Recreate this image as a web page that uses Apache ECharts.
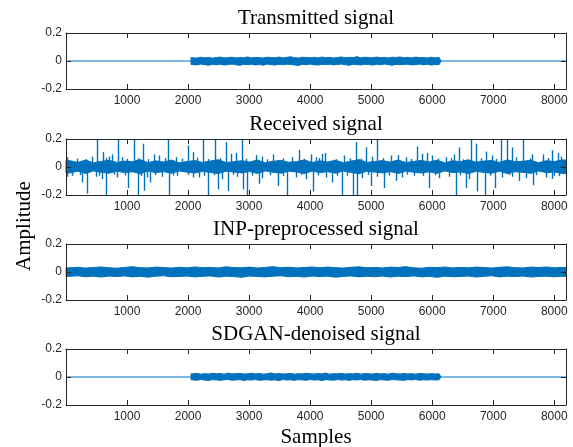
<!DOCTYPE html>
<html><head><meta charset="utf-8">
<script src="https://cdn.jsdelivr.net/npm/echarts@6/dist/echarts.min.js"></script>
<style>html,body{margin:0;padding:0;background:#fff}#c{width:573px;height:447px}</style>
</head><body><div id="c"></div>
<script>
// ---------- data ----------
const titles = ['Transmitted signal', 'Received signal', 'INP-preprocessed signal', 'SDGAN-denoised signal'];
const xAxisName = 'Samples';
const yAxisName = 'Amplitude';
const sampleCount = 8192;
const xTickStep = 1000;
const yTickStep = 0.2;

// Transmitted signal: envelope of 64-sample bins, active from sample 2048 to 6144
const txStart = 2048, txBin = 64;
const txHi = [0.024,0.021,0.027,0.023,0.026,0.020,0.025,0.028,0.022,0.024,0.027,0.021,0.025,0.023,0.029,0.022,
  0.026,0.024,0.021,0.027,0.025,0.023,0.028,0.022,0.026,0.030,0.024,0.021,0.027,0.025,0.023,0.026,
  0.022,0.028,0.024,0.026,0.021,0.025,0.029,0.023,0.026,0.024,0.031,0.022,0.027,0.025,0.023,0.028,
  0.024,0.026,0.021,0.027,0.025,0.029,0.023,0.026,0.022,0.028,0.024,0.025,0.021,0.027,0.023,0.025];
const txLo = [-0.025,-0.028,-0.022,-0.026,-0.030,-0.024,-0.027,-0.023,-0.029,-0.025,-0.022,-0.027,-0.031,-0.024,-0.026,-0.023,
  -0.028,-0.025,-0.030,-0.022,-0.026,-0.029,-0.024,-0.027,-0.023,-0.025,-0.028,-0.032,-0.024,-0.026,-0.022,-0.027,
  -0.029,-0.024,-0.026,-0.023,-0.028,-0.025,-0.022,-0.027,-0.030,-0.024,-0.026,-0.028,-0.023,-0.025,-0.029,-0.024,
  -0.027,-0.022,-0.026,-0.030,-0.024,-0.027,-0.025,-0.023,-0.028,-0.026,-0.022,-0.027,-0.024,-0.029,-0.025,-0.026];

// Received signal: core envelope of 128-sample bins + individual spikes
const rxStart = 0, rxBin = 128;
const rxHi = [0.045,0.032,0.050,0.030,0.040,0.048,0.033,0.042,0.037,0.053,0.031,0.044,0.035,0.050,0.030,0.039,
  0.046,0.033,0.043,0.052,0.032,0.038,0.045,0.035,0.050,0.030,0.041,0.047,0.034,0.038,0.051,0.032,
  0.044,0.036,0.048,0.031,0.042,0.053,0.033,0.039,0.046,0.035,0.050,0.032,0.040,0.047,0.036,0.049,
  0.030,0.044,0.038,0.052,0.034,0.042,0.047,0.033,0.051,0.037,0.041,0.048,0.031,0.045,0.039,0.050];
const rxLo = [-0.042,-0.030,-0.046,-0.028,-0.038,-0.044,-0.030,-0.040,-0.034,-0.048,-0.029,-0.040,-0.033,-0.045,-0.028,-0.037,
  -0.043,-0.031,-0.039,-0.047,-0.030,-0.036,-0.042,-0.032,-0.046,-0.028,-0.038,-0.044,-0.031,-0.035,-0.047,-0.030,
  -0.040,-0.034,-0.044,-0.029,-0.039,-0.048,-0.031,-0.036,-0.042,-0.033,-0.046,-0.030,-0.037,-0.043,-0.034,-0.045,
  -0.028,-0.040,-0.035,-0.047,-0.031,-0.039,-0.044,-0.030,-0.047,-0.034,-0.038,-0.045,-0.029,-0.041,-0.036,-0.046];
const rxSpikeX = [21,513,606,705,852,1114,1262,1442,1677,2004,2245,2442,2627,2890,3108,3393,3819,4251,4745,4910,5102,5446,5757,5922,6441,6643,6713,6877,7123,7233,7314,7490,7643,7959,8068,
  420,759,912,1524,1797,2081,2152,2698,2780,3217,3709,4009,4091,4201,4556,5020,5320,5566,5840,6004,6222,6359,6987,7369,7807,8107,
  180,330,650,1000,1180,1350,1620,1900,2330,2520,2950,3300,3550,3900,4150,4420,4650,4830,5200,5650,6100,6300,6500,6800,7050,7600,7900,
  12,257,344,583,660,1021,1185,1283,1370,1688,2081,2332,2485,2660,2901,2960,3163,3480,3627,4048,4365,4529,4704,4763,4992,5212,5402,5949,6386,6561,6741,6867,7031,7425,7654,7970,8080,
  103,485,841,1332,1578,1824,2180,2562,2808,3217,3763,3927,4255,4447,4857,5102,5512,5704,6113,6277,6605,7151,7315,7533,7861,
  230,540,780,960,1230,1450,1750,2000,2260,2420,2730,3050,3350,3560,3850,4130,4600,4950,5300,5580,5850,6050,6450,6950,7250,7700,8000];
const rxSpikeY = [0.07,0.2,0.106,0.075,0.2,0.2,0.166,0.09,0.2,0.154,0.2,0.2,0.178,0.2,0.085,0.09,0.123,0.1,0.178,0.14,0.2,0.085,0.147,0.1,0.14,0.2,0.166,0.11,0.2,0.2,0.14,0.2,0.09,0.12,0.1,
  0.074,0.09,0.07,0.082,0.07,0.106,0.067,0.094,0.1,0.074,0.07,0.09,0.07,0.094,0.082,0.074,0.082,0.07,0.094,0.082,0.07,0.09,0.082,0.07,0.09,0.074,
  0.06,0.055,0.065,0.058,0.062,0.056,0.064,0.06,0.057,0.063,0.059,0.055,0.062,0.058,0.065,0.056,0.061,0.059,0.064,0.057,0.06,0.063,0.055,0.062,0.058,0.061,0.064,
  -0.07,-0.11,-0.19,-0.087,-0.2,-0.15,-0.2,-0.17,-0.11,-0.2,-0.075,-0.2,-0.159,-0.171,-0.16,-0.2,-0.12,-0.135,-0.2,-0.175,-0.11,-0.2,-0.2,-0.2,-0.135,-0.15,-0.1,-0.15,-0.2,-0.15,-0.175,-0.2,-0.15,-0.1,-0.13,-0.085,-0.065,
  -0.063,-0.07,-0.075,-0.075,-0.07,-0.063,-0.075,-0.087,-0.07,-0.08,-0.075,-0.087,-0.075,-0.063,-0.08,-0.07,-0.075,-0.063,-0.08,-0.07,-0.087,-0.075,-0.07,-0.08,-0.075,
  -0.058,-0.062,-0.055,-0.06,-0.064,-0.057,-0.061,-0.056,-0.063,-0.059,-0.055,-0.062,-0.058,-0.065,-0.056,-0.06,-0.063,-0.057,-0.061,-0.055,-0.064,-0.058,-0.06,-0.062,-0.056,-0.059,-0.063];

// INP-preprocessed signal: envelope of 128-sample bins over the whole record
const inpStart = 0, inpBin = 128;
const inpHi = [0.030,0.034,0.028,0.032,0.036,0.030,0.027,0.033,0.038,0.031,0.029,0.035,0.032,0.028,0.034,0.030,
  0.036,0.031,0.033,0.029,0.037,0.032,0.030,0.035,0.028,0.033,0.038,0.031,0.034,0.029,0.032,0.036,
  0.030,0.035,0.031,0.028,0.034,0.037,0.030,0.033,0.029,0.035,0.032,0.038,0.030,0.027,0.034,0.031,
  0.036,0.029,0.033,0.030,0.035,0.032,0.028,0.034,0.037,0.031,0.029,0.035,0.032,0.036,0.030,0.033];
const inpLo = [-0.031,-0.027,-0.034,-0.030,-0.036,-0.029,-0.033,-0.028,-0.035,-0.031,-0.037,-0.030,-0.027,-0.034,-0.032,-0.029,
  -0.035,-0.031,-0.028,-0.036,-0.030,-0.033,-0.038,-0.029,-0.032,-0.035,-0.030,-0.027,-0.034,-0.031,-0.036,-0.029,
  -0.033,-0.030,-0.037,-0.032,-0.028,-0.035,-0.031,-0.034,-0.029,-0.036,-0.030,-0.033,-0.028,-0.035,-0.031,-0.038,
  -0.030,-0.034,-0.032,-0.029,-0.036,-0.031,-0.027,-0.035,-0.030,-0.033,-0.029,-0.036,-0.032,-0.030,-0.034,-0.031];

// SDGAN-denoised signal: envelope of 64-sample bins, active from 2048 to 6144
const sdStart = 2048, sdBin = 64;
const sdHi = [0.022,0.026,0.020,0.024,0.021,0.027,0.023,0.025,0.020,0.028,0.022,0.024,0.026,0.021,0.023,0.027,
  0.022,0.025,0.020,0.024,0.029,0.022,0.025,0.021,0.023,0.026,0.020,0.024,0.022,0.027,0.023,0.021,
  0.025,0.022,0.028,0.020,0.024,0.023,0.026,0.021,0.024,0.022,0.027,0.020,0.025,0.023,0.021,0.026,
  0.022,0.024,0.020,0.028,0.023,0.021,0.025,0.022,0.024,0.020,0.026,0.023,0.021,0.024,0.022,0.023];
const sdLo = [-0.020,-0.023,-0.018,-0.022,-0.025,-0.019,-0.021,-0.024,-0.020,-0.018,-0.023,-0.021,-0.019,-0.025,-0.020,-0.022,
  -0.018,-0.024,-0.021,-0.019,-0.023,-0.020,-0.026,-0.018,-0.022,-0.020,-0.024,-0.019,-0.021,-0.023,-0.018,-0.022,
  -0.020,-0.025,-0.019,-0.021,-0.023,-0.018,-0.022,-0.020,-0.024,-0.019,-0.021,-0.018,-0.023,-0.020,-0.022,-0.025,
  -0.019,-0.021,-0.023,-0.018,-0.020,-0.022,-0.024,-0.019,-0.021,-0.018,-0.023,-0.020,-0.022,-0.019,-0.021,-0.020];

// ---------- styling / layout ----------
const BLUE = '#0072BD';
const AXC = '#262626';
const gridTops = [33, 139, 244, 349];
const gridH = 56;
const serif = '"Liberation Serif","Times New Roman",serif';
const sans = '"Liberation Sans",Arial,Helvetica,sans-serif';

const grids = gridTops.map(t => ({ left: 66, right: 7, top: t, height: gridH, containLabel: false }));

const xAxes = [], yAxes = [];
gridTops.forEach((t, i) => {
  const tick = { show: true, inside: true, length: 5, lineStyle: { color: AXC, width: 1 } };
  const line = { show: true, onZero: false, lineStyle: { color: AXC, width: 1 } };
  xAxes.push({ gridIndex: i, type: 'value', position: 'bottom', min: 0, max: sampleCount, interval: xTickStep, z: 10,
    axisLine: line, axisTick: tick, splitLine: { show: false },
    axisLabel: { show: true, color: AXC, fontSize: 12, fontFamily: sans, margin: 6, showMinLabel: false, showMaxLabel: false,
      formatter: v => String(v) } });
  xAxes.push({ gridIndex: i, type: 'value', position: 'top', min: 0, max: sampleCount, interval: xTickStep, z: 10,
    axisLine: line, axisTick: tick, splitLine: { show: false }, axisLabel: { show: false } });
  yAxes.push({ gridIndex: i, type: 'value', position: 'left', min: -0.2, max: 0.2, interval: yTickStep, z: 10,
    axisLine: line, axisTick: tick, splitLine: { show: false },
    axisLabel: { show: true, color: AXC, fontSize: 12, fontFamily: sans, margin: 4, formatter: v => String(v) } });
  yAxes.push({ gridIndex: i, type: 'value', position: 'right', min: -0.2, max: 0.2, interval: yTickStep, z: 10,
    axisLine: line, axisTick: tick, splitLine: { show: false }, axisLabel: { show: false } });
});

const series = [];
function zeroLine(gi) {
  series.push({ type: 'line', xAxisIndex: gi * 2, yAxisIndex: gi * 2, data: [[0, 0], [sampleCount, 0]],
    symbol: 'none', lineStyle: { color: BLUE, width: 1 }, silent: true, animation: false, z: 2 });
}
function band(gi, start, bin, hi, lo) {
  const mk = arr => {
    const end = start + arr.length * bin;
    const d = [[start, 0], [start, arr[0]]];
    arr.forEach((v, k) => d.push([start + (k + 0.5) * bin, v]));
    d.push([end, arr[arr.length - 1]], [end, 0]);
    return d;
  };
  [hi, lo].forEach(arr => series.push({ type: 'line', xAxisIndex: gi * 2, yAxisIndex: gi * 2, data: mk(arr),
    symbol: 'none', lineStyle: { color: BLUE, width: 1, join: 'miter' }, itemStyle: { color: BLUE },
    areaStyle: { color: BLUE, opacity: 1, origin: 0 }, silent: true, animation: false, z: 3 }));
}
zeroLine(0);
band(0, txStart, txBin, txHi, txLo);
band(1, rxStart, rxBin, rxHi, rxLo);
series.push({ type: 'custom', coordinateSystem: 'cartesian2d', xAxisIndex: 2, yAxisIndex: 2,
  data: rxSpikeX.map((x, k) => [x, rxSpikeY[k]]), encode: { x: 0, y: 1 }, silent: true, animation: false, z: 4,
  renderItem: (params, api) => {
    const p0 = api.coord([api.value(0), 0]);
    const p1 = api.coord([api.value(0), api.value(1)]);
    const x = Math.round(p0[0]) + 0.5;
    return { type: 'line', shape: { x1: x, y1: p0[1], x2: x, y2: p1[1] }, style: { stroke: BLUE, lineWidth: 1.4 } };
  } });
band(2, inpStart, inpBin, inpHi, inpLo);
zeroLine(3);
band(3, sdStart, sdBin, sdHi, sdLo);

const graphic = [];
titles.forEach((t, i) => {
  graphic.push({ type: 'text', x: 316, y: gridTops[i] - 14.5, silent: true,
    style: { text: t, font: '21px ' + serif, fill: '#000', align: 'center', verticalAlign: 'middle' } });
});
graphic.push({ type: 'text', x: 316, y: 437, silent: true,
  style: { text: xAxisName, font: '21px ' + serif, fill: '#000', align: 'center', verticalAlign: 'middle' } });
graphic.push({ type: 'text', x: 24, y: 226, rotation: Math.PI / 2, silent: true,
  style: { text: yAxisName, font: '21px ' + serif, fill: '#000', align: 'center', verticalAlign: 'middle' } });

const chart = echarts.init(document.getElementById('c'), null, { renderer: 'canvas' });
chart.setOption({ animation: false, backgroundColor: '#fff', grid: grids, xAxis: xAxes, yAxis: yAxes, series, graphic });
</script></body></html>
